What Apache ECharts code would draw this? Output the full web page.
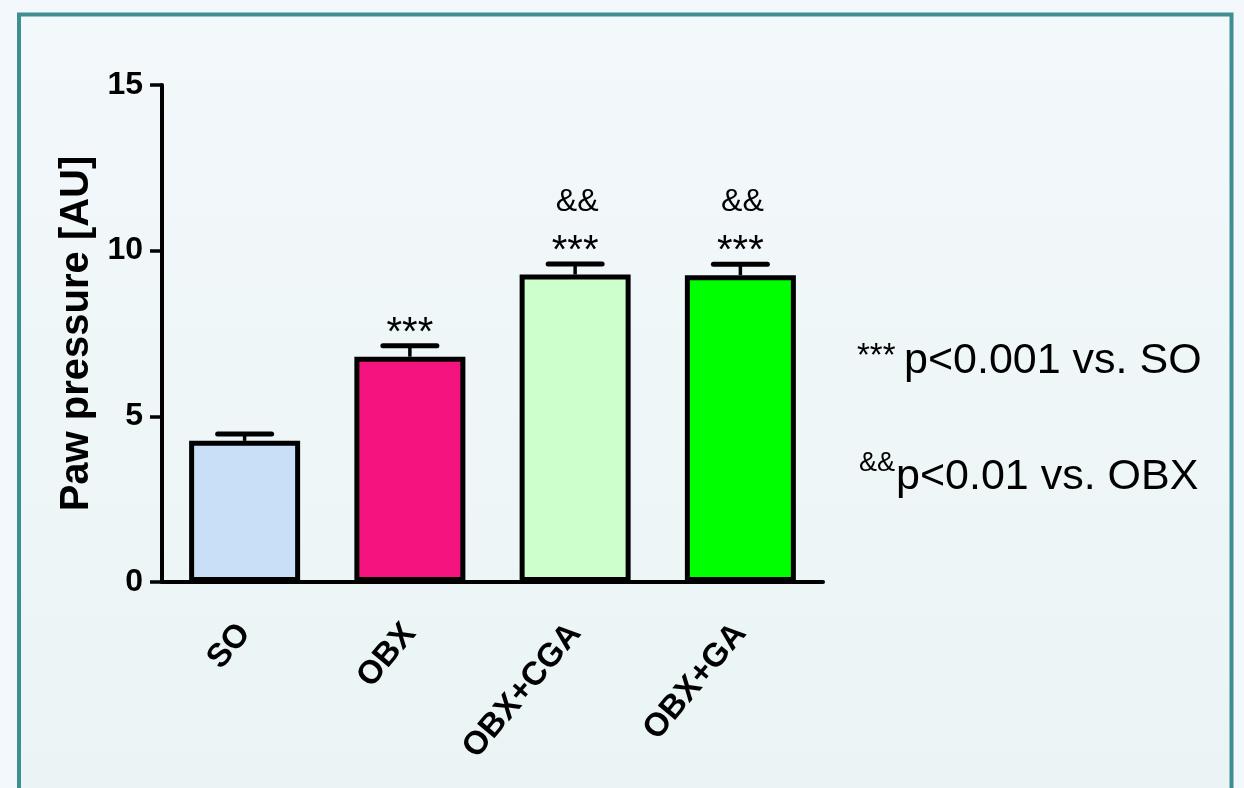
<!DOCTYPE html>
<html>
<head>
<meta charset="utf-8">
<script src="https://cdn.jsdelivr.net/npm/echarts@6/dist/echarts.min.js"></script>
<style>
html,body{margin:0;padding:0;background:#f2f8fb;}
#chart{width:1244px;height:788px;}
</style>
</head>
<body>
<div id="chart"></div>
<script>
// ---- data ----
const categories = ['SO', 'OBX', 'OBX+CGA', 'OBX+GA'];
const means = [4.26, 6.8, 9.28, 9.26];
const sem = [0.21, 0.33, 0.32, 0.33];
const sigVsSO = ['', '***', '***', '***'];
const sigVsOBX = ['', '', '&&', '&&'];
const yTicks = [0, 5, 10, 15];
const yTitle = 'Paw pressure [AU]';
const note1 = ['***', 'p<0.001 vs. SO'];
const note2 = ['&&', 'p<0.01 vs. OBX'];

// ---- styles ----
const barColors = ['#c9dff7', '#f5147f', '#ccffcc', '#00ff00'];
const FONT = '"Liberation Sans", Arial, Helvetica, sans-serif';

const chart = echarts.init(document.getElementById('chart'));

const option = {
  backgroundColor: '#f2f8fb',
  animation: false,
  graphic: [
    {
      type: 'rect', z: -10, silent: true,
      shape: { x: 19, y: 14.5, width: 1212.5, height: 800 },
      style: {
        fill: new echarts.graphic.LinearGradient(0, 0, 0, 1, [
          { offset: 0, color: '#f3f8fb' },
          { offset: 1, color: '#eaf4f5' }
        ]),
        stroke: '#3f8e91', lineWidth: 4
      }
    },
    {
      type: 'text', left: 857, top: 340,
      style: { text: note1[0], font: '33px ' + FONT, fill: '#000' }
    },
    {
      type: 'text', left: 904, top: 340,
      style: { text: note1[1], font: '43px ' + FONT, fill: '#000' }
    },
    {
      type: 'text', left: 859, top: 450,
      style: { text: note2[0], font: '27px ' + FONT, fill: '#000' }
    },
    {
      type: 'text', left: 896, top: 456,
      style: { text: note2[1], font: '43px ' + FONT, fill: '#000' }
    }
  ],
  grid: { left: 162, right: 421, top: 85, bottom: 206, containLabel: false },
  xAxis: {
    type: 'category',
    data: categories,
    axisLine: { lineStyle: { color: '#000', width: 4 } },
    axisTick: { alignWithLabel: true, length: 12, lineStyle: { color: '#000', width: 3.5 } },
    axisLabel: {
      rotate: 50, margin: 46, color: '#000',
      fontFamily: FONT, fontWeight: 'bold', fontSize: 33
    },
    splitLine: { show: false }
  },
  yAxis: {
    type: 'value',
    min: yTicks[0], max: yTicks[yTicks.length - 1], interval: 5,
    name: yTitle,
    nameLocation: 'middle',
    nameGap: 65,
    nameTextStyle: { fontFamily: FONT, fontWeight: 'bold', fontSize: 40, color: '#000' },
    axisLine: { show: true, lineStyle: { color: '#000', width: 4 } },
    axisTick: { show: true, length: 12, lineStyle: { color: '#000', width: 3.5 } },
    axisLabel: {
      margin: 19, color: '#000',
      fontFamily: FONT, fontWeight: 'bold', fontSize: 32
    },
    splitLine: { show: false }
  },
  series: [
    {
      type: 'bar',
      barWidth: 111,
      data: means.map((v, i) => ({
        value: v,
        itemStyle: { color: barColors[i], borderColor: '#000', borderWidth: 5 }
      })),
      z: 2
    },
    {
      type: 'custom',
      z: 3,
      encode: { x: 0, y: 1 },
      data: means.map((v, i) => [i, v, sem[i]]),
      renderItem: function (params, api) {
        const i = api.value(0);
        const m = api.value(1);
        const e = api.value(2);
        const top = api.coord([i, m]);
        const cap = api.coord([i, m + e]);
        const half = 27;
        const children = [
          {
            type: 'line',
            shape: { x1: top[0], y1: top[1], x2: cap[0], y2: cap[1] },
            style: { stroke: '#000', lineWidth: 3.5 }
          },
          {
            type: 'line',
            shape: { x1: cap[0] - half, y1: cap[1], x2: cap[0] + half, y2: cap[1] },
            style: { stroke: '#000', lineWidth: 5, lineCap: 'round' }
          }
        ];
        if (sigVsSO[i]) {
          children.push({
            type: 'text',
            style: {
              text: sigVsSO[i], x: cap[0], y: cap[1] - 12,
              align: 'center', verticalAlign: 'middle',
              font: '40px ' + FONT, fill: '#000'
            }
          });
        }
        if (sigVsOBX[i]) {
          children.push({
            type: 'text',
            style: {
              text: sigVsOBX[i], x: cap[0] + 2, y: cap[1] - 62,
              align: 'center', verticalAlign: 'middle',
              font: '32px ' + FONT, fill: '#000'
            }
          });
        }
        return { type: 'group', children: children };
      }
    }
  ]
};

chart.setOption(option);
</script>
</body>
</html>
